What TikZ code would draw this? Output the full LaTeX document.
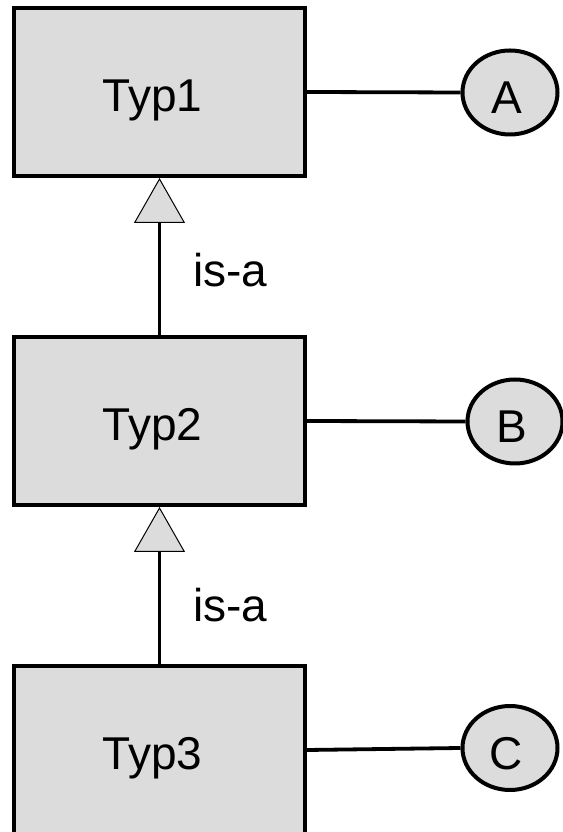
\documentclass[tikz,border=0pt]{standalone}
\usepackage{fontspec}
\setmainfont{Liberation Sans}
\usetikzlibrary{arrows.meta,shapes.geometric}
\definecolor{boxgray}{HTML}{DCDCDC}
\begin{document}
\begin{tikzpicture}[x=1pt,y=1pt,
  typbox/.style={draw=black, fill=boxgray, line width=4pt, minimum width=291pt,
    minimum height=168pt, inner sep=0pt, font=\fontsize{46}{55}\selectfont,
    text height=39.9pt, text depth=0pt},
  attr/.style={ellipse, draw=black, fill=boxgray, line width=4pt, minimum width=95pt,
    minimum height=84pt, inner sep=0pt, font=\fontsize{46}{55}\selectfont,
    text height=42.9pt, text depth=0pt},
  link/.style={line width=3.8pt},
  isa/.style={line width=3.8pt, -{Triangle[width=51pt,length=45pt,fill=boxgray,line width=1pt]}},
  isalabel/.style={font=\fontsize{46}{55}\selectfont, anchor=base west, inner sep=0pt}]
\useasboundingbox (0,0) rectangle (562,832);
\node[typbox] (t1) at (159.5,740) {\hspace*{-14pt}Typ1};
\node[typbox] (t2) at (159.5,411) {\hspace*{-14pt}Typ2};
\node[typbox] (t3) at (159.5,82) {\hspace*{-14pt}Typ3};
\node[attr] (a) at (510,739.5) {\hspace*{-7pt}A};
\node[attr] (b) at (515,410.5) {\hspace*{-7pt}B};
\node[attr] (c) at (510,84) {\hspace*{-7pt}C};
\draw[link] (t1.east) -- (a.west);
\draw[link] (t2.east) -- (b.west);
\draw[link] (t3.east) -- (c.west);
\draw[isa] (t2.north) -- (t1.south);
\draw[isa] (t3.north) -- (t2.south);
\node[isalabel] (l1) at (193,545) {is-a};
\node[isalabel] (l2) at (193,210) {is-a};
\end{tikzpicture}
\end{document}
